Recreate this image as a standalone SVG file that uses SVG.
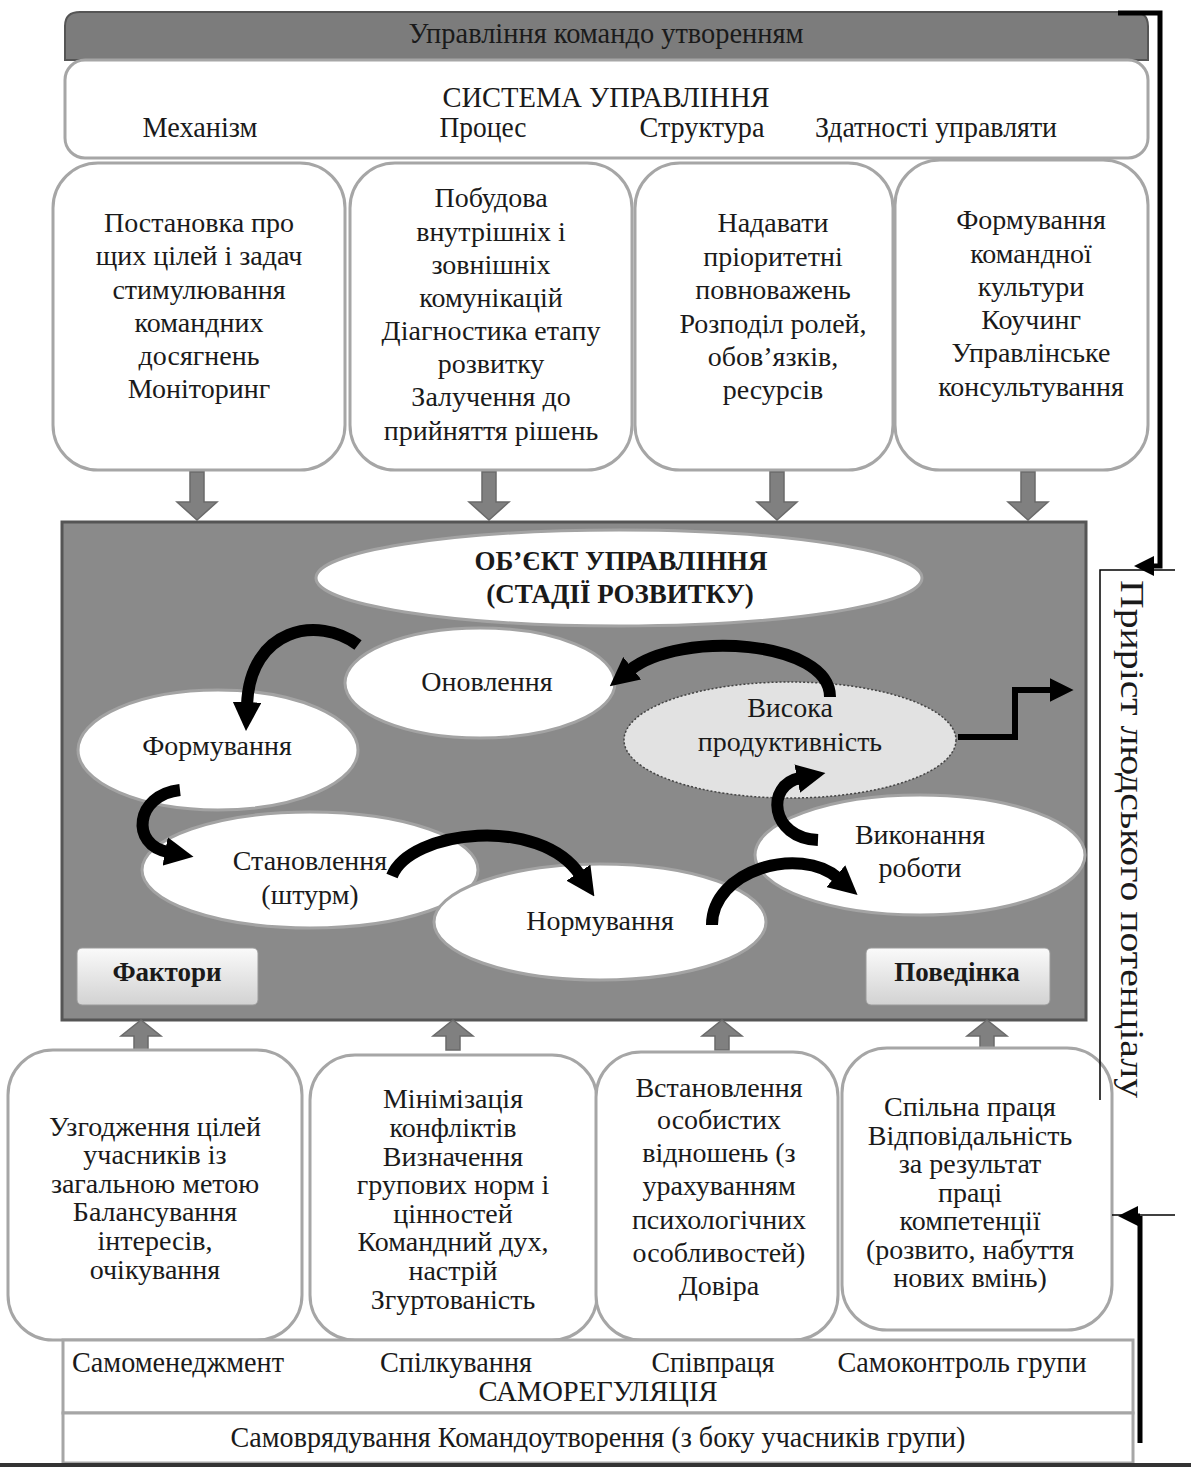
<svg xmlns="http://www.w3.org/2000/svg" width="1191" height="1468" viewBox="0 0 1191 1468">
<defs>
<style>
text{font-family:"Liberation Serif","Times New Roman",serif;fill:#1a1a1a}
.t{font-size:28px;text-anchor:middle}
.c{font-size:29px;text-anchor:middle}
.b{font-weight:bold;text-anchor:middle}
.box{fill:#fff;stroke:#a6a6a6;stroke-width:3}
.ell{fill:#fff;stroke:#a3a3a3;stroke-width:3}
.garr{fill:#808080;stroke:#6a6a6a;stroke-width:1.5}
.curve{fill:none;stroke:#000;stroke-width:12;marker-end:url(#blk)}
.thin{fill:none;stroke:#000;stroke-width:1.5}
</style>
<marker id="blk" viewBox="0 0 10 10" refX="1" refY="5" markerWidth="2.4" markerHeight="2.4" orient="auto"><path d="M0,0 L10,5 L0,10 z" fill="#000"/></marker>
<marker id="blk2" viewBox="0 0 10 10" refX="1" refY="5" markerWidth="4" markerHeight="4" orient="auto"><path d="M0,0 L10,5 L0,10 z" fill="#000"/></marker>
<linearGradient id="lab" x1="0" y1="0" x2="0" y2="1"><stop offset="0" stop-color="#fafafa"/><stop offset="1" stop-color="#d2d2d2"/></linearGradient>
</defs>
<rect width="1191" height="1468" fill="#fff"/>

<g id="top-bar">
<path d="M65,60 V26 Q65,12 80,12 H1133 Q1148,12 1148,26 V60 Z" fill="#7c7c7c" stroke="#555" stroke-width="2"/>
<text x="606" y="43" class="c" textLength="395" lengthAdjust="spacingAndGlyphs">Управління командо утворенням</text>
</g>

<g id="system">
<rect x="65" y="60" width="1083" height="98" rx="20" class="box"/>
<text x="606" y="107" class="c" textLength="327" lengthAdjust="spacingAndGlyphs">СИСТЕМА УПРАВЛІННЯ</text>
<text x="200" y="137" class="c" textLength="115" lengthAdjust="spacingAndGlyphs">Механізм</text>
<text x="483" y="137" class="c" textLength="87" lengthAdjust="spacingAndGlyphs">Процес</text>
<text x="702" y="137" class="c" textLength="125" lengthAdjust="spacingAndGlyphs">Структура</text>
<text x="936" y="137" class="c" textLength="242" lengthAdjust="spacingAndGlyphs">Здатності управляти</text>
</g>

<g id="top-box-1">
<rect x="53" y="163" width="292" height="307" rx="45" class="box"/>
<text class="t"><tspan x="199" y="232">Постановка про</tspan><tspan x="199" y="265">щих цілей і задач</tspan><tspan x="199" y="299">стимулювання</tspan><tspan x="199" y="332">командних</tspan><tspan x="199" y="365">досягнень</tspan><tspan x="199" y="398">Моніторинг</tspan></text>
</g>
<g id="top-box-2">
<rect x="350" y="163" width="282" height="307" rx="45" class="box"/>
<text class="t"><tspan x="491" y="207">Побудова</tspan><tspan x="491" y="241">внутрішніх і</tspan><tspan x="491" y="274">зовнішніх</tspan><tspan x="491" y="307">комунікацій</tspan><tspan x="491" y="340">Діагностика етапу</tspan><tspan x="491" y="373">розвитку</tspan><tspan x="491" y="406">Залучення до</tspan><tspan x="491" y="440">прийняття рішень</tspan></text>
</g>
<g id="top-box-3">
<rect x="635" y="163" width="258" height="307" rx="45" class="box"/>
<text class="t"><tspan x="773" y="232">Надавати</tspan><tspan x="773" y="266">пріоритетні</tspan><tspan x="773" y="299">повноважень</tspan><tspan x="773" y="333">Розподіл ролей,</tspan><tspan x="773" y="366">обов’язків,</tspan><tspan x="773" y="399">ресурсів</tspan></text>
</g>
<g id="top-box-4">
<rect x="895" y="160" width="253" height="310" rx="45" class="box"/>
<text class="t"><tspan x="1031" y="229">Формування</tspan><tspan x="1031" y="263">командної</tspan><tspan x="1031" y="296">культури</tspan><tspan x="1031" y="329">Коучинг</tspan><tspan x="1031" y="362">Управлінське</tspan><tspan x="1031" y="396">консультування</tspan></text>
</g>

<g id="down-arrows">
<path class="garr" d="M190,472 H204 V502 H217 L197,520 L177,502 H190 Z"/>
<path class="garr" d="M482,472 H496 V502 H509 L489,520 L469,502 H482 Z"/>
<path class="garr" d="M770,472 H784 V502 H797 L777,520 L757,502 H770 Z"/>
<path class="garr" d="M1021,472 H1035 V502 H1048 L1028,520 L1008,502 H1021 Z"/>
</g>

<g id="object-area">
<rect x="62" y="522" width="1024" height="498" fill="#8a8a8a" stroke="#555" stroke-width="3"/>
</g>

<g id="title-ellipse">
<ellipse cx="619" cy="578" rx="303" ry="48" class="ell"/>
<text class="b" font-size="27"><tspan x="621" y="570">ОБ’ЄКТ УПРАВЛІННЯ</tspan><tspan x="620" y="603">(СТАДІЇ РОЗВИТКУ)</tspan></text>
</g>
<g id="stage-onovlennia">
<ellipse cx="480" cy="683" rx="135" ry="55" class="ell"/>
<text x="487" y="691" class="t">Оновлення</text>
</g>
<g id="stage-vysoka">
<ellipse cx="790" cy="740" rx="166" ry="58" fill="#e2e2e2" stroke="#444" stroke-width="1.5" stroke-dasharray="2 2"/>
<text class="t"><tspan x="790" y="717">Висока</tspan><tspan x="790" y="751">продуктивність</tspan></text>
</g>
<g id="stage-formuvannia">
<ellipse cx="218" cy="750" rx="140" ry="60" class="ell"/>
<text x="217" y="755" class="t">Формування</text>
</g>
<g id="stage-stanovlennia">
<ellipse cx="310" cy="870" rx="168" ry="58" class="ell"/>
<text class="t"><tspan x="310" y="870">Становлення</tspan><tspan x="310" y="904">(штурм)</tspan></text>
</g>
<g id="stage-normuvannia">
<ellipse cx="600" cy="922" rx="166" ry="58" class="ell"/>
<text x="600" y="930" class="t">Нормування</text>
</g>
<g id="stage-vykonannia">
<ellipse cx="920" cy="855" rx="165" ry="60" class="ell"/>
<text class="t"><tspan x="920" y="844">Виконання</tspan><tspan x="920" y="877">роботи</tspan></text>
</g>

<g id="label-faktory">
<rect x="77" y="948" width="181" height="57" rx="5" fill="url(#lab)" stroke="#9a9a9a" stroke-width="1"/>
<text x="167" y="981" class="b" font-size="27">Фактори</text>
</g>
<g id="label-povedinka">
<rect x="866" y="948" width="184" height="57" rx="5" fill="url(#lab)" stroke="#9a9a9a" stroke-width="1"/>
<text x="957" y="981" class="b" font-size="27">Поведінка</text>
</g>

<g id="up-arrows">
<path class="garr" d="M134,1050 H148 V1036 H161 L141,1020 L121,1036 H134 Z"/>
<path class="garr" d="M446,1050 H460 V1036 H473 L453,1020 L433,1036 H446 Z"/>
<path class="garr" d="M715,1050 H729 V1036 H742 L722,1020 L702,1036 H715 Z"/>
<path class="garr" d="M980,1048 H994 V1036 H1007 L987,1020 L967,1036 H980 Z"/>
</g>

<g id="bottom-box-1">
<rect x="8" y="1050" width="294" height="290" rx="45" class="box"/>
<text class="t"><tspan x="155" y="1136">Узгодження цілей</tspan><tspan x="155" y="1164">учасників із</tspan><tspan x="155" y="1193">загальною метою</tspan><tspan x="155" y="1221">Балансування</tspan><tspan x="155" y="1250">інтересів,</tspan><tspan x="155" y="1279">очікування</tspan></text>
</g>
<g id="bottom-box-2">
<rect x="310" y="1055" width="287" height="285" rx="45" class="box"/>
<text class="t"><tspan x="453" y="1108">Мінімізація</tspan><tspan x="453" y="1137">конфліктів</tspan><tspan x="453" y="1166">Визначення</tspan><tspan x="453" y="1194">групових норм і</tspan><tspan x="453" y="1223">цінностей</tspan><tspan x="453" y="1251">Командний дух,</tspan><tspan x="453" y="1280">настрій</tspan><tspan x="453" y="1309">Згуртованість</tspan></text>
</g>
<g id="bottom-box-3">
<rect x="596" y="1052" width="242" height="288" rx="45" class="box"/>
<text class="t"><tspan x="719" y="1097">Встановлення</tspan><tspan x="719" y="1129">особистих</tspan><tspan x="719" y="1162">відношень (з</tspan><tspan x="719" y="1195">урахуванням</tspan><tspan x="719" y="1229">психологічних</tspan><tspan x="719" y="1262">особливостей)</tspan><tspan x="719" y="1295">Довіра</tspan></text>
</g>
<g id="bottom-box-4">
<rect x="842" y="1048" width="270" height="282" rx="45" class="box"/>
<text class="t"><tspan x="970" y="1116">Спільна праця</tspan><tspan x="970" y="1145">Відповідальність</tspan><tspan x="970" y="1173">за результат</tspan><tspan x="970" y="1202">праці</tspan><tspan x="970" y="1230">компетенції</tspan><tspan x="970" y="1259">(розвито, набуття</tspan><tspan x="970" y="1287">нових вмінь)</tspan></text>
</g>

<g id="self-regulation">
<rect x="63" y="1340" width="1070" height="73" fill="#fff" stroke="#a6a6a6" stroke-width="3"/>
<text x="178" y="1372" class="c" textLength="212" lengthAdjust="spacingAndGlyphs">Самоменеджмент</text>
<text x="456" y="1372" class="c" textLength="152" lengthAdjust="spacingAndGlyphs">Спілкування</text>
<text x="713" y="1372" class="c" textLength="123" lengthAdjust="spacingAndGlyphs">Співпраця</text>
<text x="962" y="1372" class="c" textLength="249" lengthAdjust="spacingAndGlyphs">Самоконтроль групи</text>
<text x="598" y="1401" class="c" textLength="239" lengthAdjust="spacingAndGlyphs">САМОРЕГУЛЯЦІЯ</text>
</g>
<g id="self-government">
<rect x="63" y="1413" width="1070" height="50" fill="#fff" stroke="#a6a6a6" stroke-width="3"/>
<text x="598" y="1447" class="c" textLength="735" lengthAdjust="spacingAndGlyphs">Самоврядування Командоутворення (з боку учасників групи)</text>
</g>
<line x1="0" y1="1465" x2="1191" y2="1465" stroke="#333" stroke-width="4"/>

<g id="growth-label">
<path class="thin" d="M1175,570 H1100 V1100"/>
<text transform="translate(1121,839) rotate(90)" font-size="33" text-anchor="middle" textLength="518" lengthAdjust="spacingAndGlyphs">Приріст людського потенціалу</text>
</g>

<g id="connectors">
<path class="curve" d="M358,645 C318,615 250,628 247,705"/>
<path class="curve" d="M180,790 C135,795 130,845 168,852"/>
<path class="curve" d="M392,876 C410,830 540,815 580,875"/>
<path class="curve" d="M712,925 C712,870 800,845 838,878"/>
<path class="curve" d="M818,840 C770,838 765,785 800,778"/>
<path class="curve" d="M830,697 C830,640 680,630 630,670"/>
<path d="M958,737 H1015 V690 H1052" fill="none" stroke="#000" stroke-width="6" marker-end="url(#blk2)"/>
<path d="M1118,13 H1160 V566 H1152" fill="none" stroke="#000" stroke-width="5" marker-end="url(#blk2)"/>
<path d="M1140,1443 V1216" fill="none" stroke="#000" stroke-width="5"/>
<path d="M1140,1216 H1136" fill="none" stroke="#000" stroke-width="5" marker-end="url(#blk2)"/>
<path class="thin" d="M1112,1215 H1175"/>
</g>
</svg>
